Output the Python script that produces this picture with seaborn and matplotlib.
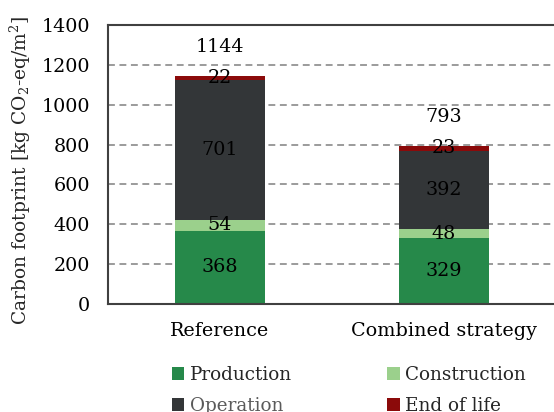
import matplotlib
matplotlib.use('Agg')
import matplotlib.pyplot as plt
from matplotlib.patches import Patch
import seaborn as sns
import numpy as np

categories = ['Reference', 'Combined strategy']
production = [368, 329]
construction = [54, 48]
operation = [701, 392]
end_of_life = [22, 23]
totals = [1144, 793]
series_names = ['Production', 'Construction', 'Operation', 'End of life']
series_colors = ['#26894a', '#9bd08c', '#333638', '#8b0a0a']
yticks = [0, 200, 400, 600, 800, 1000, 1200, 1400]

sns.set_theme(style='white')
plt.rcParams['font.family'] = ['DejaVu Serif']
plt.rcParams['mathtext.fontset'] = 'dejavuserif'
FS = 13.8

fig = plt.figure(figsize=(5.54, 4.12), dpi=100)
ax = fig.add_axes([108/554, 108/412, 448/554, 279/412])

series = [production, construction, operation, end_of_life]
cum = np.cumsum(np.array(series, dtype=float), axis=0)

# draw from top layer down so each lower cumulative bar overlays
for i in range(len(series) - 1, -1, -1):
    sns.barplot(x=categories, y=cum[i], color=series_colors[i], saturation=1,
                width=0.4, ax=ax, zorder=2, linewidth=0)

# segment labels
for i, vals in enumerate(series):
    for j, v in enumerate(vals):
        base = cum[i][j] - v
        ax.text(j, base + v / 2, str(v), ha='center', va='center',
                fontsize=FS, color='black', zorder=4)

# totals
for j, t in enumerate(totals):
    ax.annotate(str(t), xy=(j, cum[-1][j]), xytext=(0, 21),
                textcoords='offset points', ha='center', va='center',
                fontsize=FS, color='black')

ax.set_xlim(-0.5, 1.5)
ax.set_ylim(0, 1400)
ax.set_yticks(yticks)
ax.set_yticklabels([str(t) for t in yticks])
ax.yaxis.grid(True, linestyle=(0, (4.5, 3)), color='#808080', linewidth=1.1)
ax.xaxis.grid(False)
ax.set_axisbelow(True)
ax.tick_params(axis='y', length=0, pad=13, labelsize=FS, colors='black')
ax.tick_params(axis='x', length=0, pad=13, labelsize=FS, colors='black')
ax.set_xlabel('')
ax.set_ylabel('Carbon footprint [kg CO$_2$-eq/m$^2$]', fontsize=13.4)
ax.yaxis.set_label_coords(-0.168, 0.48)

for side in ['top', 'left', 'bottom']:
    ax.spines[side].set_visible(True)
    ax.spines[side].set_color('#404040')
    ax.spines[side].set_linewidth(1.5)
ax.spines['right'].set_visible(False)

LFS = 13.2
handles = [Patch(facecolor=c, edgecolor='none') for c in series_colors]
order = [0, 2, 1, 3]
leg = fig.legend([handles[k] for k in order], [series_names[k] for k in order],
                 ncol=2, loc='upper left', bbox_to_anchor=(172/554, 1 - 366/412),
                 frameon=False, borderpad=0, borderaxespad=0,
                 handlelength=0.68, handleheight=0.68, handletextpad=0.3,
                 columnspacing=5.2, fontsize=LFS, labelspacing=0.7)
for txt in leg.get_texts():
    if txt.get_text() == 'Operation':
        txt.set_color('#5a5a5a')

fig.savefig('out.png', dpi=100)
